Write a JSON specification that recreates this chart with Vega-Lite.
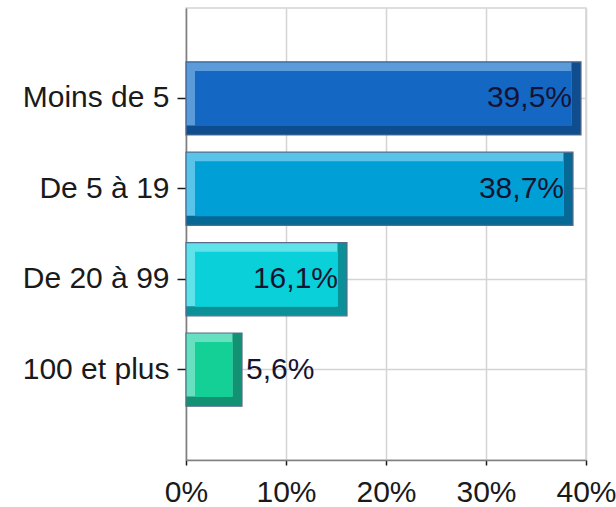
{
  "$schema": "https://vega.github.io/schema/vega-lite/v6.json",
  "autosize": {"type": "none"},
  "width": 400,
  "height": 452,
  "padding": {"left": 186, "top": 8, "right": 30, "bottom": 47},
  "background": "#ffffff",
  "config": {
    "locale": {"number": {"decimal": ",", "thousands": " ", "grouping": [3], "currency": ["", " €"]}},
    "view": {"stroke": "#d4d4d4", "strokeWidth": 1.5},
    "font": "Liberation Sans",
    "axis": {
      "labelFont": "Liberation Sans",
      "labelFontSize": 30,
      "labelColor": "#1a1a1a",
      "gridColor": "#d4d4d4",
      "gridWidth": 1.5,
      "domainColor": "#808080",
      "domainWidth": 1.5,
      "tickColor": "#1a1a1a",
      "tickWidth": 1.5,
      "title": null
    }
  },
  "data": {
    "values": [
      {"cat": "Moins de 5", "v": 0.395},
      {"cat": "De 5 à 19", "v": 0.387},
      {"cat": "De 20 à 99", "v": 0.161},
      {"cat": "100 et plus", "v": 0.056}
    ]
  },
  "encoding": {
    "y": {
      "field": "cat",
      "type": "nominal",
      "sort": null,
      "scale": {"paddingInner": 0.19, "paddingOuter": 0.595},
      "axis": {"grid": true, "tickSize": 9, "labelPadding": 8, "domainColor": "#808080"}
    },
    "x": {
      "field": "v",
      "type": "quantitative",
      "stack": null,
      "scale": {"domain": [0, 0.4], "nice": false},
      "axis": {"format": ".0%", "values": [0, 0.1, 0.2, 0.3, 0.4], "tickSize": 5, "labelPadding": 12, "labelFlush": false}
    }
  },
  "layer": [
    {
      "mark": {"type": "bar", "stroke": "#5a6a8c", "strokeWidth": 1.2},
      "encoding": {
        "x2": {"datum": 0},
        "fill": {
          "field": "cat",
          "type": "nominal",
          "scale": {"domain": ["Moins de 5", "De 5 à 19", "De 20 à 99", "100 et plus"], "range": ["#0e4e8e", "#066894", "#0a9096", "#129272"]},
          "legend": null
        }
      }
    },
    {
      "mark": {"type": "bar", "height": 63, "yOffset": -4.5, "xOffset": -9.5, "x2Offset": 0.6},
      "encoding": {
        "x2": {"datum": 0},
        "fill": {
          "field": "cat",
          "type": "nominal",
          "scale": {"domain": ["Moins de 5", "De 5 à 19", "De 20 à 99", "100 et plus"], "range": ["#5b9bd9", "#5ac3ea", "#60e2ea", "#66e0be"]},
          "legend": null
        }
      }
    },
    {
      "mark": {"type": "bar", "height": 55, "xOffset": -9.5, "x2Offset": 9},
      "encoding": {
        "x2": {"datum": 0},
        "fill": {
          "field": "cat",
          "type": "nominal",
          "scale": {"domain": ["Moins de 5", "De 5 à 19", "De 20 à 99", "100 et plus"], "range": ["#1468c4", "#009fd6", "#0ad0da", "#14cf96"]},
          "legend": null
        }
      }
    },
    {
      "transform": [{"filter": "datum.v > 0.1"}],
      "mark": {"type": "text", "align": "right", "baseline": "middle", "dx": -9, "fontSize": 30, "font": "Liberation Sans", "color": "#141432"},
      "encoding": {"text": {"field": "v", "type": "quantitative", "format": ".1%"}}
    },
    {
      "transform": [{"filter": "datum.v <= 0.1"}],
      "mark": {"type": "text", "align": "left", "baseline": "middle", "dx": 4, "fontSize": 30, "font": "Liberation Sans", "color": "#141432"},
      "encoding": {"text": {"field": "v", "type": "quantitative", "format": ".1%"}}
    }
  ],
  "resolve": {"scale": {"fill": "independent"}}
}
